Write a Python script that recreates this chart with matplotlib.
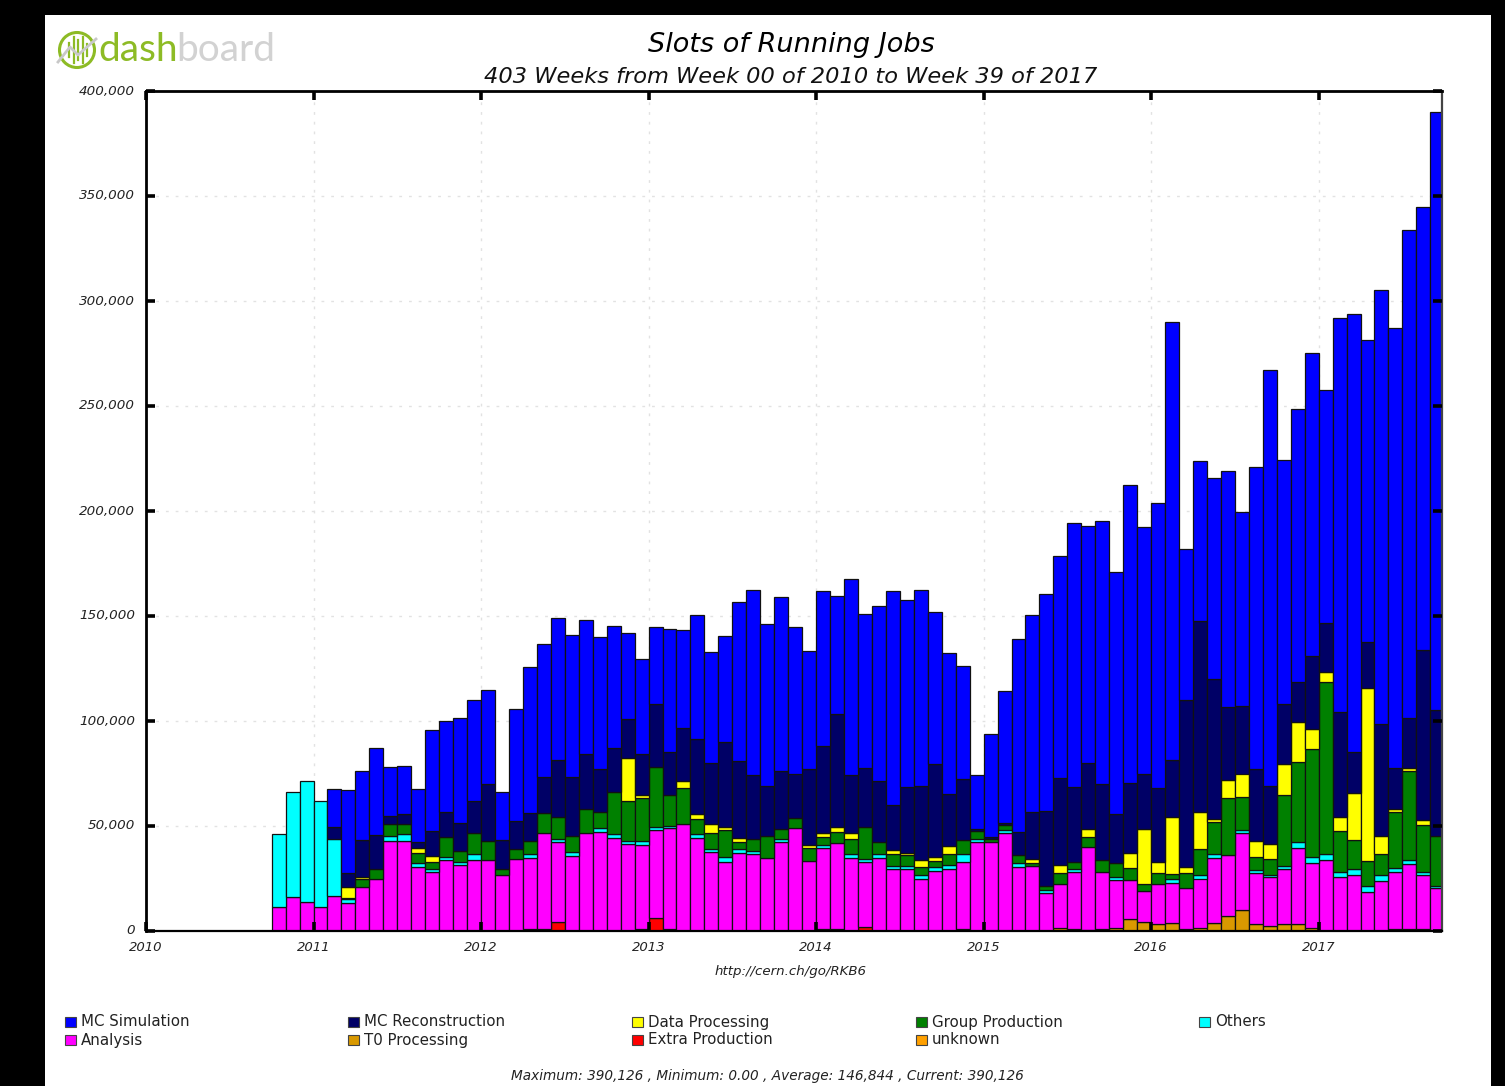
import numpy as np
import matplotlib
matplotlib.use("Agg")
import matplotlib.pyplot as plt
from matplotlib.patches import Rectangle, Circle
from matplotlib.lines import Line2D
from matplotlib.ticker import FuncFormatter

W, H = 1505, 1086

# cumulative tops of each stack layer, thousands of slots, one value per month bar
t0_processing = [0]*49 + [1] + [0]*6 + [1.6,1,0.3,1,1.5,5.7,4.1,3.2,3.7,1,1.5,3.7,7.3,10,3.2,2.5,3.2,3.2,1.6,0,0,0,0,0,1,1,1,0.5]
extra_production = [0]*18 + [1,1,4.4] + [0]*5 + [0.8,6,1] + [0]*10 + [1,1,0,2] + [0]*41
analysis_top = [11.6,16,14,11.6,16.7,13.5,20.8,25,43,43,
 30.6,27.9,33.8,31.6,33.8,33.8,26.5,34.4,35,46.5,
 42.2,35.7,46.5,47.3,44.4,41.6,40.9,48.1,48.9,50.8,
 44.4,37.4,33,37.3,36.7,35,42.2,48.9,33.5,39.5,
 41.7,35,33,35,29.3,29.3,25,28.7,29.3,33,
 42.4,42.4,46.5,30.6,31,17.9,22.4,27.9,40.1,27.9,
 24.3,24.3,19.2,22.4,23,20.3,25,35,36.2,46.8,
 27.4,25.5,29.5,39.4,32.5,33.8,25.9,26.7,18.7,23.8,
 27.9,31.7,26.7,20.3]
others_top = [46.2,66.3,71.4,62,43.7,15.2,20.8,25,45.2,46,
 32.2,29.5,35.4,33,36.7,33.8,26.5,34.4,36.8,46.5,
 44,37.5,46.5,49.2,46.2,43,42.9,49.7,50.1,50.8,
 46,38.9,35.4,38.9,38.2,35,44,48.9,33.5,41,
 41.7,36.7,34.4,36.7,31,31,26.7,30.3,31.3,36.7,
 44,42.4,48.1,32.2,31,19.5,22.4,29.5,40.1,27.9,
 25.9,24.3,19.2,22.4,24.6,20.3,26.7,36.7,36.2,48.1,
 29,26.8,31,42.5,35.4,36.7,28.2,29.5,21.6,26.7,
 30,33.8,28.1,21.6]
group_top = [46.2,66.3,71.4,62,43.7,15.8,24.6,29.3,50.9,50.9,
 37.3,33,44.9,38,46.5,43,29.3,38.9,43,56,
 54.4,45.2,57.9,56.8,66,61.9,63.2,78.2,64.6,68.2,
 53.1,46.8,48.1,42.5,43.8,45.2,48.7,54,39.7,44.6,
 47,44,49.7,42.4,36.7,36,30.3,33.1,36.7,43.3,
 47.6,44,50.5,36.2,32.5,21.4,27.4,33,44.6,33.8,
 32.2,30.1,22.4,27.4,27,27.4,38.9,52,63.2,64,
 35.4,34.1,64.8,80.6,86.5,118.7,47.6,43.3,33.3,36.7,
 56.8,76.2,50.5,45.2]
data_top = [46.2,66.3,71.4,62,43.7,20.8,25.9,29.3,50.9,50.9,
 39.3,35.9,44.9,38,46.5,43,29.3,38.9,43,56,
 54.4,45.2,57.9,56.8,66,82.5,64.6,78.2,64.6,71.6,
 55.7,50.8,49.7,44.4,43.8,45.2,48.7,54,41,46.5,
 49.3,46.5,49.7,42.4,38.7,37.3,33.6,35.2,40.3,43.3,
 47.6,44,50.5,36.2,34.3,21.4,31.4,33,48.7,33.8,
 32.2,37.3,48.7,33,54.4,30.6,56.5,53.1,71.7,75,
 43,41.6,79.5,99.7,96,123.5,54.4,65.9,115.6,45.2,
 58.1,77.5,53,45.2]
recon_top = [46.2,66.3,71.4,62,49.7,27.8,43.3,45.5,54.9,55.5,
 42.5,47.8,56.5,51.3,62,70,43.3,52.5,56.3,73.5,
 81.4,73.5,84.3,77,87,100.8,84.3,108,85.1,96.5,
 91.4,80.2,90.1,80.8,74.3,69.2,76.3,75,77.1,88.1,
 103.2,74.3,77.8,71.4,60,68.6,69.2,79.4,65.1,72.2,
 48.4,44.9,51.2,47,56.5,57,72.7,68.7,79.8,69.8,
 55.5,70.6,75,67.9,81.4,110,147.5,120.1,106.5,107.3,
 77,69.2,108.1,118.7,131.1,146.5,104.4,85.1,137.8,98.6,
 77.8,101.6,133.8,105.2]
sim_top = [46.2,66.3,71.4,62,67.8,67.1,76.3,87,78.2,78.6,
 67.8,95.7,100,101.6,110,115,66.3,105.7,125.9,136.7,
 148.9,141,148,140.1,145.2,141.7,129.5,144.6,143.8,143.2,
 150.3,133,140.3,156.8,162.5,146,159,144.6,133.2,161.9,
 159.7,167.6,151.1,154.8,161.9,157.6,162.5,151.9,132.4,126,
 74.3,93.7,114.4,139,150.5,160.5,178.5,194.5,193,195.3,
 170.8,212.5,192.5,204,290,182,224,215.5,219,199.5,
 221,267,224.5,248.5,275,257.5,292,294,281.5,305,
 287,334,345,390.1]

first_month = 9
years = [2010,2011,2012,2013,2014,2015,2016,2017]
y_ticks = [0,50,100,150,200,250,300,350,400]
legend_names = ["MC Simulation","MC Reconstruction","Data Processing","Group Production","Others",
                "Analysis","T0 Processing","Extra Production","unknown"]
legend_colors = ["#0000ff","#000066","#ffff00","#008000","#00ffff",
                 "#ff00ff","#d99900","#ff0000","#ffa000"]

def fx(x): return x / W
def fy(y): return 1 - y / H

fig = plt.figure(figsize=(W/100, H/100), dpi=100, facecolor="black")
plt.rcParams["font.family"] = "DejaVu Sans"
fig.add_artist(Rectangle((fx(45), 0), (1491-45)/W, fy(15), transform=fig.transFigure,
                         facecolor="white", edgecolor="none", zorder=-5))

ax = fig.add_axes([fx(146), fy(931), (1442-146)/W, (931-91)/H])
ax.set_facecolor("white")
ax.set_xlim(0, (1442-146)/13.96)
ax.set_ylim(0, 400)

n = len(sim_top)
xs = np.arange(n) + first_month
t0 = np.array(t0_processing, float)
extra = t0 + np.array(extra_production, float)
layers = [
    (np.zeros(n), t0, "#d99900"),
    (t0, extra, "#ff0000"),
    (extra, np.array(analysis_top, float), "#ff00ff"),
    (np.array(analysis_top, float), np.array(others_top, float), "#00ffff"),
    (np.array(others_top, float), np.array(group_top, float), "#008000"),
    (np.array(group_top, float), np.array(data_top, float), "#ffff00"),
    (np.array(data_top, float), np.array(recon_top, float), "#000066"),
    (np.array(recon_top, float), np.array(sim_top, float), "#0000ff"),
]
for low, high, col in layers:
    m = (high - low) > 0.01
    ax.bar(xs[m], (high-low)[m], bottom=low[m], width=1.0, align="edge",
           color=col, edgecolor="#111111", linewidth=0.9, zorder=2)

xt = [(y-2010)*12 for y in years]
for v in y_ticks[1:-1]:
    ax.axhline(v, color="#e2e2e2", lw=1, ls=(0,(2,5)), zorder=1)
for v in xt[1:]:
    ax.axvline(v, color="#e2e2e2", lw=1, ls=(0,(2,5)), zorder=1)

ax.set_axisbelow(False)
ax.set_xticks(xt)
ax.set_xticklabels([str(y) for y in years], fontsize=9.5, style="italic", color="#222222")
ax.set_yticks(y_ticks)
ax.yaxis.set_major_formatter(FuncFormatter(lambda v, p: f"{int(v*1000):,}"))
for lab in ax.get_yticklabels():
    lab.set_fontsize(9.7); lab.set_style("italic"); lab.set_color("#222222")
    lab.set_verticalalignment("center")
ax.tick_params(axis="both", direction="in", length=6.5, width=2.6, top=True, right=True, color="black")
ax.tick_params(axis="x", pad=7)
ax.tick_params(axis="y", pad=8)
for lab in ax.get_yticklabels():
    lab.set_y(lab.get_position()[1])
for s in ax.spines.values():
    s.set_linewidth(1.6); s.set_color("black")
ax.spines["top"].set_linewidth(2.0)
ax.spines["left"].set_linewidth(2.0)
ax.spines["right"].set_color("#444444")

fig.text(fx(791), fy(45), "Slots of Running Jobs", ha="center", va="center", fontsize=19.5, style="italic", color="black")
fig.text(fx(791), fy(77), "403 Weeks from Week 00 of 2010 to Week 39 of 2017", ha="center", va="center", fontsize=16.2, style="italic", color="#111111")
fig.text(fx(791), fy(971), "http://cern.ch/go/RKB6", ha="center", va="center", fontsize=9.6, style="italic", color="#222222")
fig.text(fx(767), fy(1076), "Maximum: 390,126 , Minimum: 0.00 , Average: 146,844 , Current: 390,126",
         ha="center", va="center", fontsize=9.8, style="italic", color="#222222")

# legend
col_x = [65, 348, 632, 916, 1199]
row_y = [1022, 1040]
for i, (name, c) in enumerate(zip(legend_names, legend_colors)):
    x0 = col_x[i % 5]; y0 = row_y[i // 5]
    fig.add_artist(Rectangle((fx(x0), fy(y0+5)), 11/W, 10/H, transform=fig.transFigure,
                             facecolor=c, edgecolor="#444444", linewidth=0.8))
    fig.text(fx(x0+16), fy(y0), name, ha="left", va="center", fontsize=10.8, color="#222222")

# logo
cx, cy, r = 77, 50, 17.5
fig.add_artist(Circle((cx, H-cy), r, transform=None, fill=False, edgecolor="#8dbb25", linewidth=2.2))
for dx, h in zip([-8,-3.5,1,5.5,10],[7,13,10,13,6]):
    fig.add_artist(Line2D([fx(cx+dx), fx(cx+dx)], [fy(cy-h), fy(cy+h)], transform=fig.transFigure, color="#8dbb25", lw=1.6))
fig.add_artist(Line2D([fx(58), fx(70), fx(78), fx(96)], [fy(62), fy(47), fy(55), fy(39)],
                      transform=fig.transFigure, color="#c8c8c8", lw=2))
fig.text(fx(98), fy(50), "dash", ha="left", va="center", fontsize=28, family="Lato", color="#8dbb25")
fig.text(fx(176), fy(50), "board", ha="left", va="center", fontsize=28, family="Lato", color="#d2d2d2")

fig.savefig("out.png", dpi=100)
